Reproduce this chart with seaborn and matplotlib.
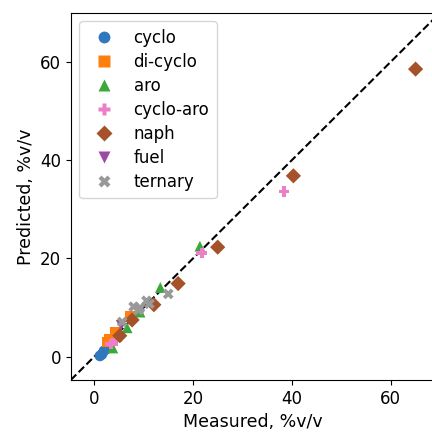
import numpy as np
import pandas as pd
import matplotlib
matplotlib.use("Agg")
import matplotlib.pyplot as plt
import seaborn as sns

# measured vs predicted, %v/v, per class
cyclo_x = [1.2, 1.6, 2.0, 2.5, 3.0]
cyclo_y = [0.2, 0.5, 1.2, 1.6, 2.0]
dicyclo_x = [2.6, 3.2, 4.3, 7.3]
dicyclo_y = [3.0, 3.6, 5.0, 8.2]
aro_x = [3.8, 6.7, 9.3, 13.4, 21.4]
aro_y = [1.8, 5.9, 9.1, 14.1, 22.5]
cycloaro_x = [3.4, 4.5, 21.8, 38.4]
cycloaro_y = [2.6, 3.4, 21.1, 33.6]
naph_x = [5.2, 7.7, 12.1, 17.0, 25.0, 40.3, 65.0]
naph_y = [4.3, 7.5, 10.6, 14.9, 22.3, 36.8, 58.5]
fuel_x = [5.5]
fuel_y = [6.4]
ternary_x = [5.7, 8.0, 9.3, 10.6, 11.2, 15.0, 9.0]
ternary_y = [7.1, 10.2, 10.0, 11.4, 10.8, 12.8, 9.5]

groups = ['cyclo', 'di-cyclo', 'aro', 'cyclo-aro', 'naph', 'fuel', 'ternary']
xs = [cyclo_x, dicyclo_x, aro_x, cycloaro_x, naph_x, fuel_x, ternary_x]
ys = [cyclo_y, dicyclo_y, aro_y, cycloaro_y, naph_y, fuel_y, ternary_y]

df = pd.concat([pd.DataFrame({'measured': x, 'predicted': y, 'group': g})
                for g, x, y in zip(groups, xs, ys)], ignore_index=True)

colors = ['#2f78be', '#ff7f0e', '#3aa83a', '#ec7fc8', '#a5522a', '#9b4aa5', '#999999']
markers = ['o', 's', '^', 'P', 'D', 'v', 'X']
palette = dict(zip(groups, colors))
marker_map = dict(zip(groups, markers))

fig = plt.figure(figsize=(4.32, 4.32), dpi=100)
ax = fig.add_axes([0.1644, 0.1204, 0.840, 0.8495])

lims = (-4.7, 69.9)
ax.plot(lims, lims, 'k--', lw=1.5, zorder=1)

sns.scatterplot(data=df, x='measured', y='predicted', hue='group', style='group',
                hue_order=groups, style_order=groups, palette=palette,
                markers=marker_map, s=60, edgecolor='none', ax=ax, zorder=2)

ax.set_xlim(-4.65, 68.7)
ax.set_ylim(lims)
ax.set_xticks([0, 20, 40, 60])
ax.set_yticks([0, 20, 40, 60])
ax.tick_params(labelsize=12)
ax.set_xlabel('Measured, %v/v', fontsize=12.5)
ax.set_ylabel('Predicted, %v/v', fontsize=12.5)
ax.legend(title=None, loc='upper left', fontsize=12, borderpad=0.45,
          handletextpad=0.8, labelspacing=0.36, markerscale=1.1)

fig.savefig('out.png', dpi=100)
